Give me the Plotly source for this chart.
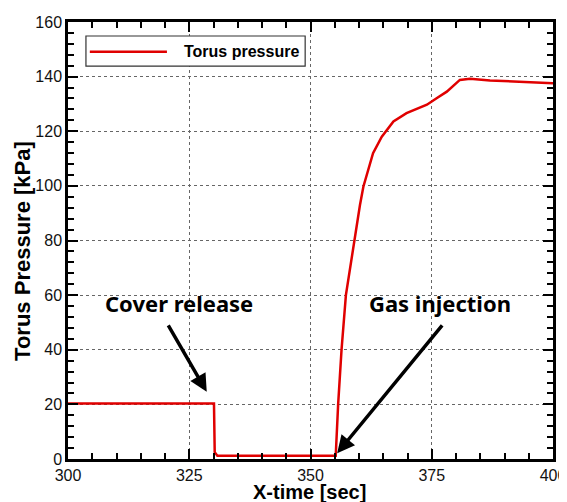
import plotly.graph_objects as go

# Data
time_sec = [300, 310, 320, 330.1, 330.25, 330.8, 340, 350, 355.2,
            355.7, 356.4, 357.3, 357.9, 358.5, 358.9, 359.3, 359.8, 360.2,
            360.9, 361.9, 362.9, 364.7, 367.1, 369.8, 374.0, 376.0, 378.1,
            380.8, 382.9, 387.0, 391.8, 397.3, 400]
torus_pressure = [20.3, 20.3, 20.3, 20.3, 2.5, 1.2, 1.2, 1.2, 1.2,
                  20, 40, 60, 67, 73, 79, 84, 89, 93,
                  99.7, 105.9, 112, 118, 123.6, 126.6, 129.7, 132.1, 134.5,
                  138.8, 139.2, 138.6, 138.2, 137.8, 137.6]

x_ticks = [300, 325, 350, 375, 400]
y_ticks = [0, 20, 40, 60, 80, 100, 120, 140, 160]

series_name = "Torus pressure"
x_title = "X-time [sec]"
y_title = "Torus Pressure [kPa]"

annotations_text = ["Cover release", "Gas injection"]
ann_text_xy = [(322.9, 57.3), (376.6, 57.0)]
ann_arrow_tail = [(320.5, 49.5), (377.4, 49.5)]
ann_arrow_head = [(328.6, 24.6), (355.5, 2.1)]

RED = "#e00000"
tick_font = dict(family="Liberation Sans, Arial, sans-serif", size=16, color="#111")

fig = go.Figure()
fig.add_trace(go.Scatter(x=time_sec, y=torus_pressure, mode="lines",
                         name=series_name, line=dict(color=RED, width=2.5),
                         showlegend=False))

axis_common = dict(
    showline=True, linecolor="black", linewidth=2.5, mirror="allticks",
    ticks="inside", ticklen=10, tickwidth=2, tickcolor="black",
    showgrid=True, gridcolor="#666", gridwidth=1, griddash="dot",
    zeroline=False, tickfont=tick_font, automargin=False,
    ticklabeloverflow="allow",
)

fig.update_xaxes(range=[300, 400], tickvals=x_ticks, **axis_common,
                 minor=dict(dtick=5, ticks="inside", ticklen=6, tickwidth=1.5,
                            tickcolor="black", showgrid=False))
fig.update_yaxes(range=[0, 160], tickvals=y_ticks, **axis_common,
                 minor=dict(dtick=4, ticks="inside", ticklen=6, tickwidth=1.5,
                            tickcolor="black", showgrid=False))

anns = []
for txt, (tx, ty), (ax_, ay_), (hx, hy) in zip(annotations_text, ann_text_xy,
                                                ann_arrow_tail, ann_arrow_head):
    anns.append(dict(x=tx, y=ty, xref="x", yref="y", text="<b>" + txt + "</b>",
                     showarrow=False,
                     font=dict(family="Noto Sans, sans-serif", size=22, color="black")))
    anns.append(dict(x=hx, y=hy, ax=ax_, ay=ay_, xref="x", yref="y",
                     axref="x", ayref="y", text="", showarrow=True,
                     arrowhead=2, arrowsize=1.0, arrowwidth=3.5, arrowcolor="black"))

# axis titles
anns.append(dict(x=0.497, y=-0.075, xref="paper", yref="paper", text="<b>" + x_title + "</b>",
                 showarrow=False, xanchor="center", yanchor="middle",
                 font=dict(family="Liberation Sans, Arial", size=20, color="black")))
anns.append(dict(x=-0.093, y=0.476, xref="paper", yref="paper", text="<b>" + y_title + "</b>",
                 textangle=-90, showarrow=False, xanchor="center", yanchor="middle",
                 font=dict(family="Liberation Sans, Arial", size=22, color="black")))

# custom legend box
anns.append(dict(x=0.235, y=0.932, xref="paper", yref="paper", text="<b>" + series_name + "</b>",
                 showarrow=False, xanchor="left", yanchor="middle",
                 font=dict(family="Liberation Sans, Arial", size=16, color="black")))
fig.update_layout(
    annotations=anns,
    shapes=[
        dict(type="rect", xref="paper", yref="paper", x0=0.037, x1=0.489,
             y0=0.899, y1=0.968, line=dict(color="#333", width=1.2),
             fillcolor="white", layer="above"),
        dict(type="line", xref="paper", yref="paper", x0=0.045, x1=0.204,
             y0=0.932, y1=0.932, line=dict(color=RED, width=2.5)),
    ],
    # page body has an 8px margin, so the figure is sized to fit inside the window
    width=559, height=494,
    margin=dict(l=60, r=14, t=14, b=43),
    plot_bgcolor="white", paper_bgcolor="white",
)

fig.write_html("out.html")
